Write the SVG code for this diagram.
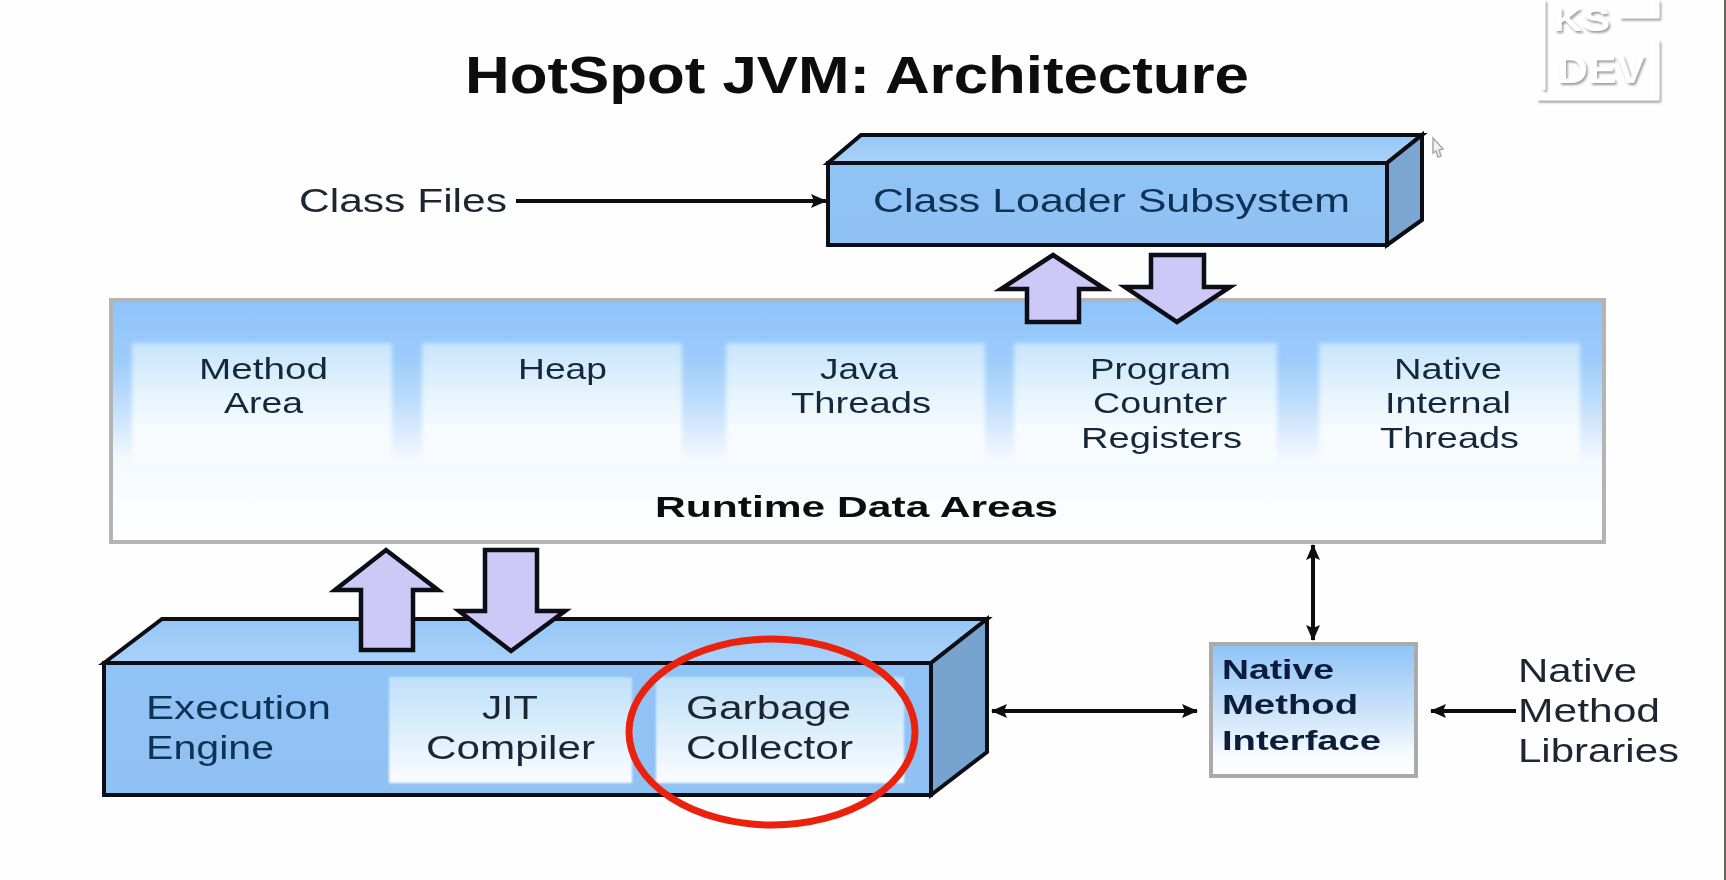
<svg xmlns="http://www.w3.org/2000/svg" width="1726" height="880" viewBox="0 0 1726 880">
<style>
text{font-family:"Liberation Sans",Arial,sans-serif;fill:#1c2733}
.t{font-size:33px}
.m{font-size:30px;fill:#16283a}
.b{font-weight:bold}
.nb{font-size:28px;font-weight:bold;fill:#0a1d3a}
.edge{stroke:#0b0f14;stroke-width:4;stroke-linejoin:miter}
.block{fill:#ccc9f6;stroke:#0c0c18;stroke-width:4.5;stroke-linejoin:miter}
.thin{fill:none;stroke:#111;stroke-width:4}
.inner{filter:url(#soft)}
.crisp{filter:url(#soft2)}
.grey{stroke:#b4b4b4;stroke-width:4}
</style>
<defs>
<filter id="soft" x="-5%" y="-10%" width="110%" height="120%"><feGaussianBlur stdDeviation="2"/></filter>
<filter id="soft2" x="-5%" y="-10%" width="110%" height="120%"><feGaussianBlur stdDeviation="0.8"/></filter>
<filter id="all" filterUnits="userSpaceOnUse" x="0" y="0" width="1726" height="880"><feGaussianBlur stdDeviation="0.6"/></filter>
<filter id="emb" x="-10%" y="-10%" width="125%" height="130%"><feDropShadow dx="1.5" dy="2" stdDeviation="0.9" flood-color="#9a9a9a"/></filter>
<linearGradient id="rt" x1="0" y1="0" x2="0" y2="1"><stop offset="0" stop-color="#8fc3fb"/><stop offset="0.25" stop-color="#9dccfb"/><stop offset="0.45" stop-color="#c4e0fc"/><stop offset="0.66" stop-color="#f4f9fe"/><stop offset="1" stop-color="#ffffff"/></linearGradient>
<linearGradient id="in" x1="0" y1="0" x2="0" y2="1"><stop offset="0" stop-color="#c6e5fb"/><stop offset="0.4" stop-color="#e4f3fd"/><stop offset="0.72" stop-color="#f7fbfe"/><stop offset="1" stop-color="#f7fbfe"/></linearGradient>
<linearGradient id="jit" x1="0" y1="0" x2="0" y2="1"><stop offset="0" stop-color="#bfe0f9"/><stop offset="0.55" stop-color="#e0f0fc"/><stop offset="1" stop-color="#fbfdff"/></linearGradient>
<linearGradient id="nmi" x1="0" y1="0" x2="0" y2="1"><stop offset="0" stop-color="#8fc3f8"/><stop offset="0.5" stop-color="#c9e2f9"/><stop offset="0.85" stop-color="#f8fbff"/><stop offset="1" stop-color="#ffffff"/></linearGradient>
<linearGradient id="front" x1="0" y1="0" x2="0" y2="1"><stop offset="0" stop-color="#90c3f6"/><stop offset="1" stop-color="#90c1f3"/></linearGradient>
<linearGradient id="top" x1="0" y1="0" x2="0" y2="1"><stop offset="0" stop-color="#96c6f6"/><stop offset="1" stop-color="#a9d2f9"/></linearGradient>
<marker id="ah" markerUnits="userSpaceOnUse" markerWidth="18" markerHeight="16" refX="15" refY="8" orient="auto-start-reverse"><path d="M0,1 L16,8 L0,15 L3,8 Z" fill="#111"/></marker>
</defs>
<rect id="background" width="1726" height="880" fill="#fefefe"/>
<rect x="1724" y="0" width="2" height="880" fill="#6a6a5a"/>

<g id="watermark" fill="none" filter="url(#emb)">
<path d="M1544,0 V90 M1537,99 H1658 V40 M1620,17 H1658 V0" stroke="#fff" stroke-width="3"/>
<text x="1553" y="31" font-size="33" class="b" style="fill:#fff" textLength="57" lengthAdjust="spacingAndGlyphs">KS</text>
<text x="1557" y="83" font-size="38" class="b" style="fill:#fff" textLength="88" lengthAdjust="spacingAndGlyphs">DEV</text>
</g>
<polygon id="cursor" points="1433,138 1443,149 1439,150 1441,156 1438,157 1436,151 1433,153" fill="#f4f4f4" stroke="#a8a8a8" stroke-width="1.5"/>

<g id="diagram" filter="url(#all)">
<text id="title" x="465" y="93" font-size="51" class="b" style="fill:#0a0a0a" textLength="784" lengthAdjust="spacingAndGlyphs">HotSpot JVM: Architecture</text>
<text id="class-files" x="299" y="212" class="t" textLength="208" lengthAdjust="spacingAndGlyphs">Class Files</text>

<g id="class-loader">
<polygon points="828,163 861,135 1422,135 1387,163" fill="url(#top)" class="edge"/>
<polygon points="1387,163 1422,135 1422,220 1387,245" fill="#7ba6d2" class="edge"/>
<rect x="828" y="163" width="559" height="82" fill="url(#front)" class="edge"/>
<text x="873" y="212" class="t" style="fill:#0f3052" textLength="477" lengthAdjust="spacingAndGlyphs">Class Loader Subsystem</text>
</g>

<g id="runtime-data-areas">
<rect x="111" y="300" width="1493" height="242" fill="url(#rt)" class="grey"/>
<text x="655" y="517" font-size="30" class="b" style="fill:#111" textLength="403" lengthAdjust="spacingAndGlyphs">Runtime Data Areas</text>
</g>
<g id="method-area">
<rect x="132" y="343" width="260" height="122" fill="url(#in)" class="inner"/>
<text x="199" y="379" class="m" textLength="129" lengthAdjust="spacingAndGlyphs">Method</text>
<text x="224" y="413" class="m" textLength="79" lengthAdjust="spacingAndGlyphs">Area</text>
</g>
<g id="heap">
<rect x="422" y="343" width="260" height="122" fill="url(#in)" class="inner"/>
<text x="518" y="379" class="m" textLength="89" lengthAdjust="spacingAndGlyphs">Heap</text>
</g>
<g id="java-threads">
<rect x="726" y="343" width="259" height="122" fill="url(#in)" class="inner"/>
<text x="820" y="379" class="m" textLength="78" lengthAdjust="spacingAndGlyphs">Java</text>
<text x="791" y="413" class="m" textLength="140" lengthAdjust="spacingAndGlyphs">Threads</text>
</g>
<g id="program-counter-registers">
<rect x="1014" y="343" width="263" height="122" fill="url(#in)" class="inner"/>
<text x="1090" y="379" class="m" textLength="141" lengthAdjust="spacingAndGlyphs">Program</text>
<text x="1093" y="413" class="m" textLength="134" lengthAdjust="spacingAndGlyphs">Counter</text>
<text x="1081" y="448" class="m" textLength="161" lengthAdjust="spacingAndGlyphs">Registers</text>
</g>
<g id="native-internal-threads">
<rect x="1319" y="343" width="261" height="122" fill="url(#in)" class="inner"/>
<text x="1394" y="379" class="m" textLength="108" lengthAdjust="spacingAndGlyphs">Native</text>
<text x="1385" y="413" class="m" textLength="126" lengthAdjust="spacingAndGlyphs">Internal</text>
<text x="1380" y="448" class="m" textLength="139" lengthAdjust="spacingAndGlyphs">Threads</text>
</g>

<g id="execution-engine">
<polygon points="104,663 162,619 987,619 931,663" fill="url(#top)" class="edge"/>
<polygon points="931,663 987,619 987,752 931,795" fill="#76a4cf" class="edge"/>
<rect x="104" y="663" width="827" height="132" fill="url(#front)" class="edge"/>
<text x="146" y="719" class="t" style="fill:#0f3052" textLength="185" lengthAdjust="spacingAndGlyphs">Execution</text>
<text x="146" y="759" class="t" style="fill:#0f3052" textLength="128" lengthAdjust="spacingAndGlyphs">Engine</text>
</g>
<g id="jit-compiler">
<rect x="389" y="677" width="243" height="106" fill="url(#jit)" class="crisp"/>
<text x="482" y="719" class="t" textLength="56" lengthAdjust="spacingAndGlyphs">JIT</text>
<text x="426" y="759" class="t" textLength="169" lengthAdjust="spacingAndGlyphs">Compiler</text>
</g>
<g id="garbage-collector">
<rect x="656" y="677" width="248" height="106" fill="url(#jit)" class="crisp"/>
<text x="686" y="719" class="t" textLength="165" lengthAdjust="spacingAndGlyphs">Garbage</text>
<text x="686" y="759" class="t" textLength="167" lengthAdjust="spacingAndGlyphs">Collector</text>
</g>

<g id="native-method-interface">
<rect x="1211" y="644" width="205" height="132" fill="url(#nmi)" stroke="#aaa" stroke-width="4"/>
<text x="1222" y="679" class="nb" textLength="112" lengthAdjust="spacingAndGlyphs">Native</text>
<text x="1222" y="714" class="nb" textLength="136" lengthAdjust="spacingAndGlyphs">Method</text>
<text x="1222" y="750" class="nb" textLength="159" lengthAdjust="spacingAndGlyphs">Interface</text>
</g>
<g id="native-method-libraries">
<text x="1518" y="682" class="t" textLength="119" lengthAdjust="spacingAndGlyphs">Native</text>
<text x="1518" y="722" class="t" textLength="142" lengthAdjust="spacingAndGlyphs">Method</text>
<text x="1518" y="762" class="t" textLength="161" lengthAdjust="spacingAndGlyphs">Libraries</text>
</g>

<g id="connectors">
<line x1="516" y1="201" x2="826" y2="201" class="thin" marker-end="url(#ah)"/>
<line x1="1313" y1="545" x2="1313" y2="640" class="thin" marker-start="url(#ah)" marker-end="url(#ah)"/>
<line x1="992" y1="711" x2="1197" y2="711" class="thin" marker-start="url(#ah)" marker-end="url(#ah)"/>
<line x1="1516" y1="711" x2="1431" y2="711" class="thin" marker-end="url(#ah)"/>
<polygon class="block" points="1053,255 1105,289 1079,289 1079,322 1027,322 1027,289 1001,289"/>
<polygon class="block" points="1151,255 1204,255 1204,287 1230,287 1177,322 1125,287 1151,287"/>
<polygon class="block" points="386,550 438,590 413,590 413,650 361,650 361,590 335,590"/>
<polygon class="block" points="485,550 537,550 537,611 565,611 511,651 459,611 485,611"/>
</g>

<ellipse id="highlight" cx="772" cy="732" rx="143" ry="93" fill="none" stroke="#ea2010" stroke-width="7"/>
</g>
</svg>
